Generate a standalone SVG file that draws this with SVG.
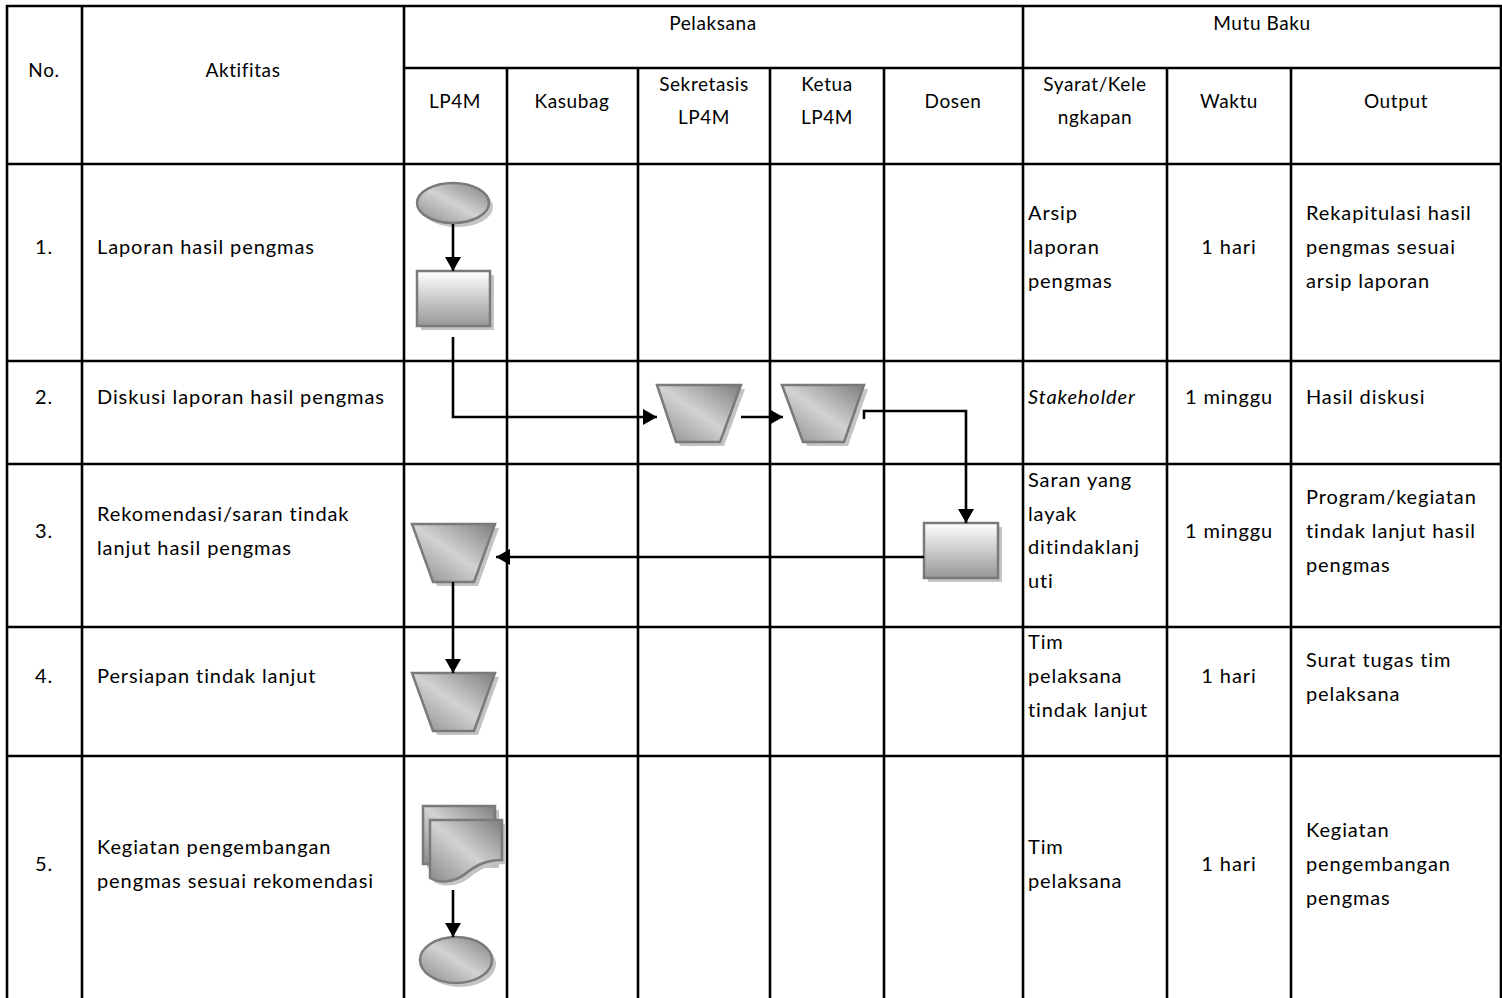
<svg xmlns="http://www.w3.org/2000/svg" width="1502" height="998" viewBox="0 0 1502 998">
<style>
.t{font-family:Lato,"Liberation Sans",sans-serif;font-size:20px;letter-spacing:0.9px;fill:#000}
.h{font-size:19px;letter-spacing:0.6px}
.c{text-anchor:middle}
.i{font-style:italic}
.grid line{stroke:#000;stroke-width:2.6}
.sh{fill:#c4c4c4;stroke:none}
.sd{fill:url(#gd);stroke:#7a7a7a;stroke-width:2.5}
.sr{fill:url(#gv);stroke:#7a7a7a;stroke-width:2.5}
.cn{fill:none;stroke:#000;stroke-width:2.6}
</style>
<defs>
<linearGradient id="gd" x1="1" y1="0" x2="0" y2="1">
<stop offset="0" stop-color="#7e7e7e"/>
<stop offset="0.5" stop-color="#d2d2d2"/>
<stop offset="1" stop-color="#8a8a8a"/>
</linearGradient>
<linearGradient id="gv" x1="0" y1="0" x2="0" y2="1">
<stop offset="0" stop-color="#ffffff"/>
<stop offset="1" stop-color="#979797"/>
</linearGradient>
<marker id="ah" viewBox="0 0 14 16" refX="14" refY="8" markerWidth="14" markerHeight="16" markerUnits="userSpaceOnUse" orient="auto">
<path d="M0,0 L14,8 L0,16 Z" fill="#000"/>
</marker>
</defs>
<rect width="1502" height="998" fill="#fff"/>
<g id="grid" class="grid">
<line x1="6" y1="6" x2="1502" y2="6"/>
<line x1="7" y1="5" x2="7" y2="998"/>
<line x1="1501" y1="5" x2="1501" y2="998"/>
<line x1="82" y1="5" x2="82" y2="998"/>
<line x1="404" y1="5" x2="404" y2="998"/>
<line x1="1023" y1="5" x2="1023" y2="998"/>
<line x1="404" y1="68" x2="1502" y2="68"/>
<line x1="507" y1="68" x2="507" y2="998"/>
<line x1="638" y1="68" x2="638" y2="998"/>
<line x1="770" y1="68" x2="770" y2="998"/>
<line x1="884" y1="68" x2="884" y2="998"/>
<line x1="1167" y1="68" x2="1167" y2="998"/>
<line x1="1291" y1="68" x2="1291" y2="998"/>
<line x1="6" y1="164" x2="1502" y2="164"/>
<line x1="6" y1="361" x2="1502" y2="361"/>
<line x1="6" y1="464" x2="1502" y2="464"/>
<line x1="6" y1="627" x2="1502" y2="627"/>
<line x1="6" y1="756" x2="1502" y2="756"/>
</g>
<g id="header">
<text class="t h c" x="44" y="77">No.</text>
<text class="t h c" x="243" y="77">Aktifitas</text>
<text class="t h c" x="713" y="30">Pelaksana</text>
<text class="t h c" x="1262" y="30">Mutu Baku</text>
<text class="t h c" x="455" y="108">LP4M</text>
<text class="t h c" x="572" y="108">Kasubag</text>
<text class="t h c" x="704" y="91">Sekretasis</text>
<text class="t h c" x="704" y="124">LP4M</text>
<text class="t h c" x="827" y="91">Ketua</text>
<text class="t h c" x="827" y="124">LP4M</text>
<text class="t h c" x="953" y="108">Dosen</text>
<text class="t h c" x="1095" y="91">Syarat/Kele</text>
<text class="t h c" x="1095" y="124">ngkapan</text>
<text class="t h c" x="1229" y="108">Waktu</text>
<text class="t h c" x="1396" y="108">Output</text>
</g>
<g id="row1">
<text class="t c" x="44" y="254">1.</text>
<text class="t" x="97" y="254">Laporan hasil pengmas</text>
<text class="t" x="1028" y="220">Arsip</text>
<text class="t" x="1028" y="254">laporan</text>
<text class="t" x="1028" y="288">pengmas</text>
<text class="t c" x="1229" y="254">1 hari</text>
<text class="t" x="1306" y="220">Rekapitulasi hasil</text>
<text class="t" x="1306" y="254">pengmas sesuai</text>
<text class="t" x="1306" y="288">arsip laporan</text>
</g>
<g id="row2">
<text class="t c" x="44" y="404">2.</text>
<text class="t" x="97" y="404">Diskusi laporan hasil pengmas</text>
<text class="t i" x="1028" y="404">Stakeholder</text>
<text class="t c" x="1229" y="404">1 minggu</text>
<text class="t" x="1306" y="404">Hasil diskusi</text>
</g>
<g id="row3">
<text class="t c" x="44" y="538">3.</text>
<text class="t" x="97" y="521">Rekomendasi/saran tindak</text>
<text class="t" x="97" y="555">lanjut hasil pengmas</text>
<text class="t" x="1028" y="487">Saran yang</text>
<text class="t" x="1028" y="521">layak</text>
<text class="t" x="1028" y="554">ditindaklanj</text>
<text class="t" x="1028" y="588">uti</text>
<text class="t c" x="1229" y="538">1 minggu</text>
<text class="t" x="1306" y="504">Program/kegiatan</text>
<text class="t" x="1306" y="538">tindak lanjut hasil</text>
<text class="t" x="1306" y="572">pengmas</text>
</g>
<g id="row4">
<text class="t c" x="44" y="683">4.</text>
<text class="t" x="97" y="683">Persiapan tindak lanjut</text>
<text class="t" x="1028" y="649">Tim</text>
<text class="t" x="1028" y="683">pelaksana</text>
<text class="t" x="1028" y="717">tindak lanjut</text>
<text class="t c" x="1229" y="683">1 hari</text>
<text class="t" x="1306" y="667">Surat tugas tim</text>
<text class="t" x="1306" y="701">pelaksana</text>
</g>
<g id="row5">
<text class="t c" x="44" y="871">5.</text>
<text class="t" x="97" y="854">Kegiatan pengembangan</text>
<text class="t" x="97" y="888">pengmas sesuai rekomendasi</text>
<text class="t" x="1028" y="854">Tim</text>
<text class="t" x="1028" y="888">pelaksana</text>
<text class="t c" x="1229" y="871">1 hari</text>
<text class="t" x="1306" y="837">Kegiatan</text>
<text class="t" x="1306" y="871">pengembangan</text>
<text class="t" x="1306" y="905">pengmas</text>
</g>
<g id="start">
<ellipse class="sh" cx="457" cy="207" rx="36" ry="20"/>
<ellipse class="sd" cx="453" cy="203" rx="36" ry="20"/>
</g>
<g id="proc1">
<rect class="sh" x="421" y="275" width="73" height="55"/>
<rect class="sr" x="417" y="271" width="73" height="55"/>
</g>
<g id="trap1">
<polygon class="sh" points="661,389 745,389 724,446 680,446"/>
<polygon class="sd" points="657,385 741,385 720,442 676,442"/>
</g>
<g id="trap2">
<polygon class="sh" points="786,389 868,389 848,446 807,446"/>
<polygon class="sd" points="782,385 864,385 844,442 803,442"/>
</g>
<g id="proc2">
<rect class="sh" x="928" y="527" width="74" height="55"/>
<rect class="sr" x="924" y="523" width="74" height="55"/>
</g>
<g id="trap3">
<polygon class="sh" points="416,528 499,528 478,586 437,586"/>
<polygon class="sd" points="412,524 495,524 474,582 433,582"/>
</g>
<g id="trap4">
<polygon class="sh" points="416,677 499,677 478,735 437,735"/>
<polygon class="sd" points="412,673 495,673 474,731 433,731"/>
</g>
<g id="docs">
<rect class="sh" x="427" y="810" width="72" height="58"/>
<rect class="sd" x="423" y="806" width="72" height="58"/>
<path class="sh" d="M434,824 H506 V864 C489,864 479,870 469,878 C459,886 444,888 434,882 Z"/>
<path class="sd" d="M430,820 H502 V860 C485,860 475,866 465,874 C455,882 440,884 430,878 Z"/>
</g>
<g id="end">
<ellipse class="sh" cx="460" cy="964" rx="36" ry="23"/>
<ellipse class="sd" cx="456" cy="960" rx="36" ry="23"/>
</g>
<g id="connectors">
<path class="cn" d="M453,224 V271" marker-end="url(#ah)"/>
<path class="cn" d="M453,337 V417 H657" marker-end="url(#ah)"/>
<path class="cn" d="M741,417 H783" marker-end="url(#ah)"/>
<path class="cn" d="M864,419 V411 H966 V523" marker-end="url(#ah)"/>
<path class="cn" d="M924,557 H496" marker-end="url(#ah)"/>
<path class="cn" d="M453,582 V673" marker-end="url(#ah)"/>
<path class="cn" d="M453,890 V937" marker-end="url(#ah)"/>
</g>
</svg>
